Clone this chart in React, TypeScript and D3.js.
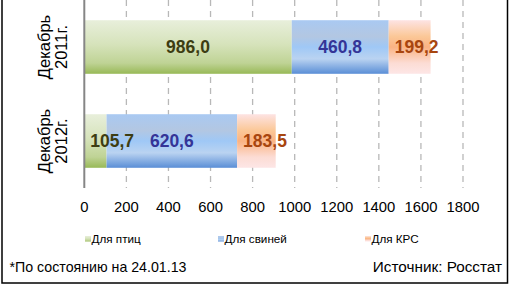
import React, { useEffect, useRef } from "react";
import * as d3 from "d3";

const categories = ["Декабрь|2011г.", "Декабрь|2012г."];
const seriesNames = ["Для птиц", "Для свиней", "Для КРС"];
const poultry = [986.0, 105.7];
const pigs = [460.8, 620.6];
const cattle = [199.2, 183.5];
const xTicks = [0, 200, 400, 600, 800, 1000, 1200, 1400, 1600, 1800];
const footnote = "*По состоянию на 24.01.13";
const source = "Источник: Росстат";

const W = 510;
const H = 287;
const FONT = "Liberation Sans, Arial, sans-serif";

const gradients = [
  { id: "gGreen", stops: [[0, "#e8efdb"], [0.45, "#d6e3bb"], [0.8, "#bfd395"], [1, "#98b957"]] },
  { id: "gBlue", stops: [[0, "#a9c9f2"], [0.3, "#b3c7e2"], [0.5, "#9fc8f6"], [0.72, "#bad3f1"], [1, "#5a8ed6"]] },
  { id: "gOrange", stops: [[0, "#fde3e3"], [0.3, "#fbc898"], [0.5, "#fab383"], [0.8, "#fcdcd4"], [1, "#fde6e6"]] },
];
const labelColors = ["#3d3d12", "#343497", "#a8460f"];

export default function App() {
  const ref = useRef<SVGSVGElement>(null);

  useEffect(() => {
    if (!ref.current) return;
    const svg = d3.select(ref.current);
    svg.selectAll("*").remove();

    const defs = svg.append("defs");
    gradients.forEach((g) => {
      const lg = defs
        .append("linearGradient")
        .attr("id", g.id)
        .attr("x1", 0)
        .attr("y1", 0)
        .attr("x2", 0)
        .attr("y2", 1);
      g.stops.forEach(([o, c]) => lg.append("stop").attr("offset", o as number).attr("stop-color", c as string));
    });

    const x = d3.scaleLinear().domain([0, 1800]).range([84.3, 463]);
    const y = d3
      .scaleBand<string>()
      .domain(categories)
      .range([0, 188])
      .paddingInner(0.43)
      .paddingOuter(0.215);

    // gridlines
    svg
      .append("g")
      .selectAll("line")
      .data(xTicks.slice(1))
      .join("line")
      .attr("x1", (d) => x(d))
      .attr("x2", (d) => x(d))
      .attr("y1", 0)
      .attr("y2", 188)
      .attr("stroke", "#b8b8b8")
      .attr("stroke-width", 1.3)
      .attr("stroke-dasharray", "6,5");

    // stacked bars
    const rows = categories.map((c, i) => ({ cat: c, v: [poultry[i], pigs[i], cattle[i]] }));
    const stack = d3.stack<any>().keys(["0", "1", "2"]).value((d, k) => d.v[+k]);
    const layers = stack(rows);

    layers.forEach((layer, si) => {
      const g = svg.append("g");
      g.selectAll("rect")
        .data(layer)
        .join("rect")
        .attr("x", (d) => x(d[0]))
        .attr("width", (d) => x(d[1]) - x(d[0]))
        .attr("y", (d) => y(d.data.cat)!)
        .attr("height", y.bandwidth())
        .attr("fill", `url(#${gradients[si].id})`);
    });

    // value labels
    layers.forEach((layer, si) => {
      layer.forEach((d) => {
        const val = d[1] - d[0];
        const txt = d3.format(".1f")(val).replace(".", ",");
        const x0 = x(d[0]);
        const x1 = x(d[1]);
        const narrow = x1 - x0 < 50;
        svg
          .append("text")
          .attr("x", narrow ? x0 + 6 : (x0 + x1) / 2)
          .attr("y", y(d.data.cat)! + y.bandwidth() / 2 + 6)
          .attr("text-anchor", narrow ? "start" : "middle")
          .attr("font-family", FONT)
          .attr("font-weight", "bold")
          .attr("font-size", 17.5)
          .attr("fill", labelColors[si])
          .text(txt);
      });
    });

    // vertical axis line
    svg
      .append("line")
      .attr("x1", x(0))
      .attr("x2", x(0))
      .attr("y1", 0)
      .attr("y2", 188)
      .attr("stroke", "#868686")
      .attr("stroke-width", 2);

    // category labels
    categories.forEach((c) => {
      const cy = y(c)! + y.bandwidth() / 2;
      const lines = c.split("|");
      const t = svg
        .append("text")
        .attr("transform", `translate(49.5,${cy}) rotate(-90)`)
        .attr("text-anchor", "middle")
        .attr("font-family", FONT)
        .attr("font-size", 16.5)
        .attr("fill", "#000");
      lines.forEach((l, i) => {
        t.append("tspan").attr("x", 0).attr("dy", i === 0 ? 0 : 17.5).text(l);
      });
    });

    // x tick labels
    svg
      .append("g")
      .selectAll("text")
      .data(xTicks)
      .join("text")
      .attr("x", (d) => x(d))
      .attr("y", 212)
      .attr("text-anchor", "middle")
      .attr("font-family", FONT)
      .attr("font-size", 14.8)
      .attr("fill", "#000")
      .text((d) => String(d));

    // legend
    const legendX = [85, 218, 365];
    seriesNames.forEach((name, i) => {
      svg
        .append("rect")
        .attr("x", legendX[i])
        .attr("y", 236)
        .attr("width", 6)
        .attr("height", 5.5)
        .attr("fill", `url(#${gradients[i].id})`);
      svg
        .append("text")
        .attr("x", legendX[i] + 6.5)
        .attr("y", 243)
        .attr("font-family", FONT)
        .attr("font-size", 11.7)
        .attr("fill", "#000")
        .text(name);
    });

    // footer
    svg
      .append("text")
      .attr("x", 9.5)
      .attr("y", 271.5)
      .attr("font-family", FONT)
      .attr("font-size", 14.2)
      .attr("fill", "#000")
      .text(footnote);
    svg
      .append("text")
      .attr("x", 502)
      .attr("y", 271.5)
      .attr("text-anchor", "end")
      .attr("font-family", FONT)
      .attr("font-size", 15.3)
      .attr("fill", "#000")
      .text(source);

    // outer border
    svg
      .append("rect")
      .attr("x", 2)
      .attr("y", -5)
      .attr("width", 505.5)
      .attr("height", 288)
      .attr("fill", "none")
      .attr("stroke", "#000")
      .attr("stroke-width", 1.5);
  }, []);

  return (
    <svg
      ref={ref}
      width={W}
      height={H}
      style={{ position: "absolute", left: 0, top: 0, background: "#fff" }}
    />
  );
}
